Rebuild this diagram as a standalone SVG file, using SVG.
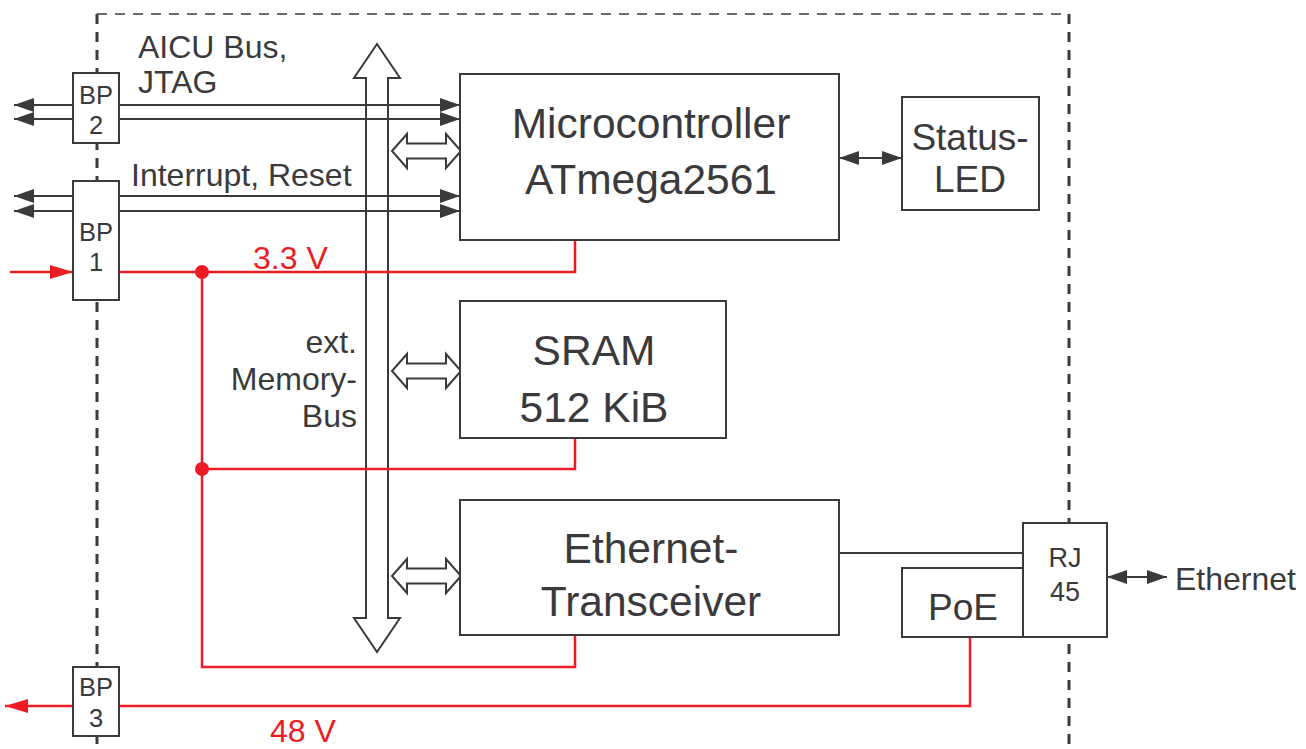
<svg xmlns="http://www.w3.org/2000/svg" width="1306" height="749" viewBox="0 0 1306 749">
<style>
.box{fill:#fff;stroke:#3a3a3c;stroke-width:2}
.wire{fill:none;stroke:#3a3a3c;stroke-width:2}
.pwr{fill:none;stroke:#ed1c24;stroke-width:2.5}
.hollow{fill:#fff;stroke:#3a3a3c;stroke-width:2;stroke-linejoin:miter}
.t{font-family:"Liberation Sans",Arial,sans-serif;fill:#3a3a3c;text-anchor:middle}
.big{font-size:42.5px}
.mid{font-size:37px}
.lbl{font-size:32px}
.bp{font-size:25.5px}
.red{fill:#ed1c24}
.dash{fill:none;stroke:#3a3a3c;stroke-dasharray:10 8}
</style>
<defs>
<marker id="ah" viewBox="0 0 20 14" refX="20" refY="7" markerWidth="20" markerHeight="14" orient="auto-start-reverse" markerUnits="userSpaceOnUse"><path d="M0,0 L20,7 L0,14 z" fill="#3a3a3c"/></marker>
<marker id="ahr" viewBox="0 0 23 14" refX="23" refY="7" markerWidth="23" markerHeight="14" orient="auto-start-reverse" markerUnits="userSpaceOnUse"><path d="M0,0 L23,7 L0,14 z" fill="#ed1c24"/></marker>
<path id="dbl" d="M0,0 L15,-17 L15,-7.5 L54,-7.5 L54,-17 L69,0 L54,17 L54,7.5 L15,7.5 L15,17 z"/>
</defs>

<g id="boundary">
<line class="dash" x1="97" y1="14" x2="1069" y2="14" stroke-width="1.5"/>
<line class="dash" x1="97" y1="14" x2="97" y2="749" stroke-width="3"/>
<line class="dash" x1="1069" y1="14" x2="1069" y2="749" stroke-width="3"/>
</g>

<g id="memory-bus">
<polygon class="hollow" points="377,44 400,78 388,78 388,618 400,618 377,652 354,618 366,618 366,78 354,78"/>
</g>

<g id="connectors">
<line class="wire" x1="73" y1="105" x2="14" y2="105" marker-end="url(#ah)"/>
<line class="wire" x1="73" y1="119" x2="14" y2="119" marker-end="url(#ah)"/>
<line class="wire" x1="119" y1="105" x2="460" y2="105" marker-end="url(#ah)"/>
<line class="wire" x1="119" y1="119" x2="460" y2="119" marker-end="url(#ah)"/>
<line class="wire" x1="73" y1="196" x2="14" y2="196" marker-end="url(#ah)"/>
<line class="wire" x1="73" y1="211" x2="14" y2="211" marker-end="url(#ah)"/>
<line class="wire" x1="119" y1="196" x2="460" y2="196" marker-end="url(#ah)"/>
<line class="wire" x1="119" y1="211" x2="460" y2="211" marker-end="url(#ah)"/>
<use href="#dbl" class="hollow" x="392" y="151"/>
<use href="#dbl" class="hollow" x="392" y="371"/>
<use href="#dbl" class="hollow" x="392" y="576"/>
<line class="wire" x1="839" y1="158" x2="902" y2="158" marker-start="url(#ah)" marker-end="url(#ah)"/>
<line class="wire" x1="839" y1="553" x2="1023" y2="553"/>
<line class="wire" x1="1107" y1="577" x2="1167" y2="577" marker-start="url(#ah)" marker-end="url(#ah)"/>
<line class="pwr" x1="10" y1="272" x2="73" y2="272" marker-end="url(#ahr)"/>
<polyline class="pwr" points="119,272 575,272 575,240"/>
<polyline class="pwr" points="202,272 202,667 575,667 575,635"/>
<polyline class="pwr" points="202,469 575,469 575,438"/>
<circle cx="202" cy="272" r="7" fill="#ed1c24"/>
<circle cx="202" cy="469" r="7" fill="#ed1c24"/>
<polyline class="pwr" points="970,637 970,706 119,706"/>
<line class="pwr" x1="73" y1="706" x2="5" y2="706" marker-end="url(#ahr)"/>
</g>

<g id="labels">
<text class="t lbl" x="138" y="58" style="text-anchor:start">AICU Bus,</text>
<text class="t lbl" x="138" y="93" style="text-anchor:start">JTAG</text>
<text class="t lbl" x="131" y="186" style="text-anchor:start">Interrupt, Reset</text>
<text class="t lbl red" x="253" y="269" style="text-anchor:start">3.3 V</text>
<text class="t lbl red" x="270" y="742" style="text-anchor:start">48 V</text>
<text class="t lbl" x="357" y="353" style="text-anchor:end">ext.</text>
<text class="t lbl" x="357" y="390" style="text-anchor:end">Memory-</text>
<text class="t lbl" x="357" y="427" style="text-anchor:end">Bus</text>
<text class="t lbl" x="1175" y="590" style="text-anchor:start">Ethernet</text>
</g>

<g id="bp2">
<rect class="box" x="73" y="73" width="46" height="70"/>
<text class="t bp" x="96" y="104">BP</text>
<text class="t bp" x="96" y="134">2</text>
</g>
<g id="bp1">
<rect class="box" x="73" y="181" width="46" height="119"/>
<text class="t bp" x="96" y="241">BP</text>
<text class="t bp" x="96" y="271">1</text>
</g>
<g id="bp3">
<rect class="box" x="73" y="667" width="46" height="69"/>
<text class="t bp" x="96" y="696">BP</text>
<text class="t bp" x="96" y="727">3</text>
</g>

<g id="microcontroller">
<rect class="box" x="460" y="74" width="379" height="166"/>
<text class="t big" x="651" y="138">Microcontroller</text>
<text class="t big" x="651" y="194">ATmega2561</text>
</g>
<g id="status-led">
<rect class="box" x="902" y="97" width="137" height="113"/>
<text class="t mid" x="970" y="150">Status-</text>
<text class="t mid" x="970" y="192">LED</text>
</g>
<g id="sram">
<rect class="box" x="460" y="301" width="266" height="137"/>
<text class="t big" x="594" y="365">SRAM</text>
<text class="t big" x="594" y="422">512 KiB</text>
</g>
<g id="ethernet-transceiver">
<rect class="box" x="460" y="500" width="379" height="135"/>
<text class="t big" x="651" y="563">Ethernet-</text>
<text class="t big" x="651" y="616">Transceiver</text>
</g>
<g id="poe">
<rect class="box" x="902" y="568" width="121" height="69"/>
<text class="t mid" x="963" y="620">PoE</text>
</g>
<g id="rj45">
<rect class="box" x="1023" y="523" width="84" height="114"/>
<text class="t bp" x="1065" y="567" style="font-size:27px">RJ</text>
<text class="t bp" x="1065" y="601" style="font-size:27px">45</text>
</g>
</svg>
